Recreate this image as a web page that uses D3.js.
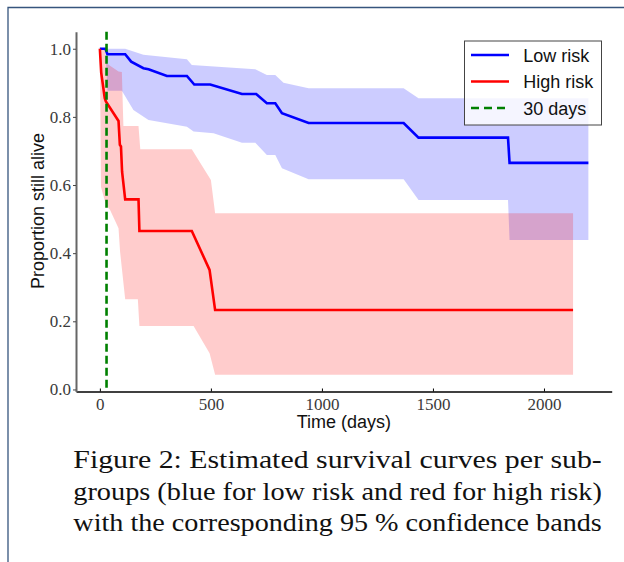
<!DOCTYPE html>
<html>
<head>
<meta charset="utf-8">
<script src="https://cdn.jsdelivr.net/npm/d3@7"></script>
<style>
    body { margin: 0; background: #ffffff; }
    svg { display: block; }
</style>
</head>
<body>
<div id="chart"></div>
<script>
// low risk group: survival estimate
var lowTime = [0, 25, 34, 114, 141, 196, 219, 302, 392, 425, 497, 640, 704, 752, 790, 820, 940, 1368, 1435, 1838, 1845, 2200];
var lowSurv = [1.0, 1.0, 0.984, 0.984, 0.962, 0.943, 0.940, 0.920, 0.920, 0.895, 0.895, 0.867, 0.867, 0.840, 0.840, 0.811, 0.782, 0.782, 0.739, 0.739, 0.665, 0.665];

// low risk group: 95% band
var lowUpperTime = [0, 25, 114, 196, 392, 414, 700, 752, 790, 827, 940, 1368, 1435, 2200];
var lowUpperVal = [1.0, 1.0, 1.0, 0.982, 0.969, 0.952, 0.940, 0.923, 0.923, 0.900, 0.884, 0.884, 0.855, 0.855];
var lowLowerTime = [0, 25, 34, 99, 151, 219, 392, 422, 512, 640, 700, 752, 790, 820, 940, 1368, 1435, 1838, 1845, 2200];
var lowLowerVal = [1.0, 1.0, 0.877, 0.877, 0.820, 0.791, 0.771, 0.757, 0.752, 0.724, 0.724, 0.688, 0.688, 0.649, 0.617, 0.617, 0.556, 0.556, 0.439, 0.439];

// high risk group: survival estimate
var highTime = [0, 6, 22, 27, 84, 90, 95, 100, 114, 174, 178, 414, 494, 519, 2131];
var highSurv = [1.0, 0.930, 0.855, 0.845, 0.788, 0.718, 0.713, 0.639, 0.558, 0.558, 0.465, 0.465, 0.351, 0.233, 0.233];

// high risk group: 95% band
var highUpperTime = [0, 22, 31, 84, 99, 106, 174, 182, 414, 500, 519, 2131];
var highUpperVal = [1.0, 1.0, 0.957, 0.933, 0.932, 0.773, 0.773, 0.705, 0.705, 0.615, 0.517, 0.517];
var highLowerTime = [0, 5, 28, 46, 84, 91, 114, 171, 178, 422, 494, 519, 2131];
var highLowerVal = [1.0, 0.594, 0.541, 0.527, 0.473, 0.404, 0.265, 0.265, 0.186, 0.186, 0.106, 0.043, 0.043];

var cutoffDay = 30;

var xTicks = [0, 500, 1000, 1500, 2000];
var yTicks = [0.0, 0.2, 0.4, 0.6, 0.8, 1.0];

var legendLabels = ["Low risk", "High risk", "30 days"];

var captionLines = [
    "Figure 2: Estimated survival curves per sub-",
    "groups (blue for low risk and red for high risk)",
    "with the corresponding 95 % confidence bands"
];

var width = 624, height = 562;

var svg = d3.select("#chart").append("svg")
    .attr("width", width)
    .attr("height", height);

svg.append("rect")
    .attr("width", width)
    .attr("height", height)
    .attr("fill", "#ffffff");

// page frame (top and left edges only)
svg.append("path")
    .attr("d", "M8,562 L8,7.5 L624,7.5")
    .attr("fill", "none")
    .attr("stroke", "#36557d")
    .attr("stroke-width", 1.3);

var x = d3.scaleLinear().domain([-107.5, 2305]).range([76, 611.7]);
var y = d3.scaleLinear().domain([-0.006, 1.05]).range([391.5, 31.7]);

function zipPoints(ts, vs) {
    return ts.map(function(t, i) { return [t, vs[i]]; });
}

var line = d3.line()
    .x(function(d) { return x(d[0]); })
    .y(function(d) { return y(d[1]); });

// band polygon = upper edge forward, lower edge back
function bandPath(upT, upV, loT, loV) {
    var pts = zipPoints(upT, upV).concat(zipPoints(loT, loV).reverse());
    return line(pts) + "Z";
}

var plot = svg.append("g");

plot.append("path")
    .attr("d", bandPath(lowUpperTime, lowUpperVal, lowLowerTime, lowLowerVal))
    .attr("fill", "blue")
    .attr("fill-opacity", 0.2)
    .attr("stroke", "none");

plot.append("path")
    .attr("d", bandPath(highUpperTime, highUpperVal, highLowerTime, highLowerVal))
    .attr("fill", "red")
    .attr("fill-opacity", 0.2)
    .attr("stroke", "none");

plot.append("path")
    .attr("d", line(zipPoints(lowTime, lowSurv)))
    .attr("fill", "none")
    .attr("stroke", "#0000ff")
    .attr("stroke-width", 2.6)
    .attr("stroke-linejoin", "miter");

plot.append("path")
    .attr("d", line(zipPoints(highTime, highSurv)))
    .attr("fill", "none")
    .attr("stroke", "#ff0000")
    .attr("stroke-width", 2.6)
    .attr("stroke-linejoin", "miter");

plot.append("line")
    .attr("x1", x(cutoffDay))
    .attr("x2", x(cutoffDay))
    .attr("y1", y.range()[1])
    .attr("y2", y.range()[0])
    .attr("stroke", "#008000")
    .attr("stroke-width", 2.6)
    .attr("stroke-dasharray", "8,4");

// axes
var xAxis = svg.append("g")
    .attr("transform", "translate(0," + y.range()[0] + ")")
    .call(d3.axisBottom(x).tickValues(xTicks).tickFormat(d3.format("d")).tickSizeInner(-3).tickSizeOuter(0).tickPadding(6));
xAxis.select(".domain").attr("stroke", "#000").attr("stroke-width", 1.6);
xAxis.selectAll(".tick line").attr("stroke", "#000");
xAxis.selectAll(".tick text")
    .attr("font-family", "'Liberation Serif', serif")
    .attr("font-size", 17)
    .attr("fill", "#3a3a3a");

var yAxis = svg.append("g")
    .attr("transform", "translate(" + x.range()[0] + ",0)")
    .call(d3.axisLeft(y).tickValues(yTicks).tickFormat(d3.format(".1f")).tickSizeInner(3).tickSizeOuter(0).tickPadding(2));
yAxis.select(".domain").attr("stroke", "#666").attr("stroke-width", 2);
yAxis.selectAll(".tick line").attr("stroke", "#444");
yAxis.selectAll(".tick text")
    .attr("font-family", "'Liberation Serif', serif")
    .attr("font-size", 17)
    .attr("fill", "#3a3a3a");

svg.append("text")
    .attr("x", 343.9)
    .attr("y", 428)
    .attr("text-anchor", "middle")
    .attr("font-family", "'Liberation Sans', Arial, sans-serif")
    .attr("font-size", 18)
    .attr("fill", "#111")
    .text("Time (days)");

svg.append("text")
    .attr("transform", "translate(44,211) rotate(-90)")
    .attr("text-anchor", "middle")
    .attr("font-family", "'Liberation Sans', Arial, sans-serif")
    .attr("font-size", 18)
    .attr("fill", "#111")
    .text("Proportion still alive");

// legend
var legend = svg.append("g").attr("transform", "translate(464.5,41)");
legend.append("rect")
    .attr("width", 137)
    .attr("height", 84)
    .attr("fill", "#ffffff")
    .attr("fill-opacity", 0.8)
    .attr("stroke", "#444")
    .attr("stroke-width", 1);

var legendColors = ["#0000ff", "#ff0000", "#008000"];
var legendDash = [null, null, "8,5"];

legendLabels.forEach(function(label, i) {
    var cy = 14 + i * 26.5;
    legend.append("line")
        .attr("x1", 6.5)
        .attr("x2", 44.5)
        .attr("y1", cy)
        .attr("y2", cy)
        .attr("stroke", legendColors[i])
        .attr("stroke-width", 2.6)
        .attr("stroke-dasharray", legendDash[i]);
    legend.append("text")
        .attr("x", 58.8)
        .attr("y", cy + 6.5)
        .attr("font-family", "'Liberation Sans', Arial, sans-serif")
        .attr("font-size", 18)
        .attr("fill", "#111")
        .text(label);
});

// caption, justified to the column width
captionLines.forEach(function(txt, i) {
    svg.append("text")
        .attr("x", 73.3)
        .attr("y", 468.3 + i * 31.5)
        .attr("font-family", "'Liberation Serif', serif")
        .attr("font-size", 26)
        .attr("fill", "#111")
        .attr("textLength", 528.5)
        .attr("lengthAdjust", "spacingAndGlyphs")
        .text(txt);
});
</script>
</body>
</html>
